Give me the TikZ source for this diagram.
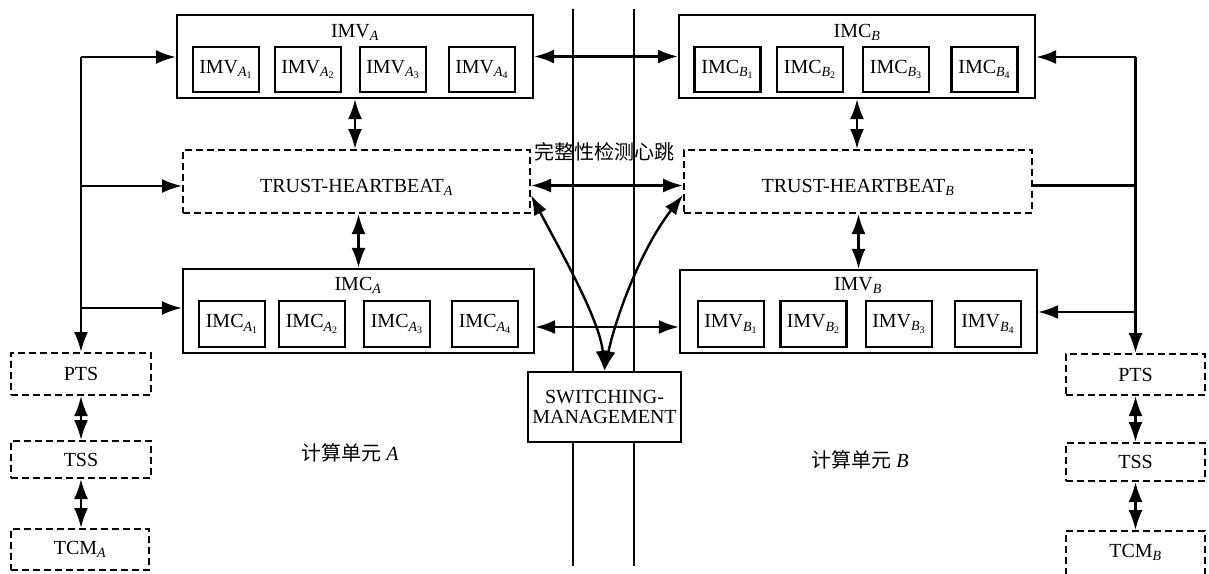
\documentclass[tikz,border=0pt]{standalone}
\usepackage{fontspec}
\usepackage{amsmath}
\setmainfont{Liberation Serif}
\newfontfamily\cjk{Noto Sans CJK SC}
\usetikzlibrary{arrows.meta,calc}
\newcommand{\sa}[2]{#1$_{\textit{#2}}$}
\newcommand{\sab}[3]{#1$_{\textit{#2}_{\text{#3}}}$}
\tikzset{
  box/.style={draw, line width=2.2pt, inner sep=0pt, fill=white},
  dbox/.style={draw, line width=2pt, dash pattern=on 7pt off 4pt, inner sep=0pt},
  lbl/.style={font=\fontsize{20}{20}\selectfont},
  tip/.tip={Latex[length=20pt,width=14pt]},
  arr/.style={line width=2.4pt, -tip},
  darr/.style={line width=2.4pt, tip-tip},
  plain/.style={line width=2.4pt},
  sep/.style={line width=1.8pt},
}
\begin{document}
\begin{tikzpicture}[x=1pt,y=-1pt]
\fill[white] (0,0) rectangle (1209,573);
\useasboundingbox (0,0) rectangle (1209,573);

% separator lines
\coordinate (s1t) at (573,9);  \coordinate (s1b) at (573,566);
\coordinate (s2t) at (634,9);  \coordinate (s2b) at (634,566);
\draw[sep] (s1t) -- (s1b);
\draw[sep] (s2t) -- (s2b);

% ---------- unit A ----------
\node[box, minimum width=356pt, minimum height=83pt] (imva) at (355,56.5) {};
\node[lbl, anchor=base] (imvat) at (355,37) {\sa{IMV}{A}};
\node[box, lbl, minimum width=66pt, minimum height=45pt] (imva1) at (226,69.5) {\sab{IMV}{A}{1}};
\node[box, lbl, minimum width=66pt, minimum height=45pt] (imva2) at (308,69.5) {\sab{IMV}{A}{2}};
\node[box, lbl, minimum width=66pt, minimum height=45pt] (imva3) at (393,69.5) {\sab{IMV}{A}{3}};
\node[box, lbl, minimum width=66pt, minimum height=45pt] (imva4) at (482,69.5) {\sab{IMV}{A}{4}};

\node[dbox, minimum width=347pt, minimum height=63pt] (tha) at (356.5,181.5) {};
\node[lbl, anchor=base] (thatxt) at (356.5,192) {\sa{TRUST-HEARTBEAT}{A}};

\node[box, minimum width=351pt, minimum height=84pt] (imca) at (358.5,311) {};
\node[lbl, anchor=base] (imcat) at (358,290) {\sa{IMC}{A}};
\node[box, lbl, minimum width=66pt, minimum height=46pt] (imca1) at (232,324) {\sab{IMC}{A}{1}};
\node[box, lbl, minimum width=66pt, minimum height=46pt] (imca2) at (312,324) {\sab{IMC}{A}{2}};
\node[box, lbl, minimum width=66pt, minimum height=46pt] (imca3) at (397,324) {\sab{IMC}{A}{3}};
\node[box, lbl, minimum width=66pt, minimum height=46pt] (imca4) at (485,324) {\sab{IMC}{A}{4}};

\node[dbox, lbl, minimum width=140pt, minimum height=42pt] (ptsa) at (81,374) {PTS};
\node[dbox, lbl, minimum width=140pt, minimum height=37pt] (tssa) at (81,459.5) {TSS};
\node[dbox, lbl, minimum width=138pt, minimum height=41pt] (tcma) at (80,549.5) {\raisebox{3pt}{\sa{TCM}{A}}};

\node[lbl] (unita) at (350,453) {{\cjk 计算单元} \textit{A}};

% ---------- unit B ----------
\node[box, minimum width=356pt, minimum height=83pt] (imcb) at (857,56.5) {};
\node[lbl, anchor=base] (imcbt) at (857,37) {\sa{IMC}{B}};
\node[box, lbl, minimum width=66pt, minimum height=45pt] (imcb1) at (727.5,69.5) {\sab{IMC}{B}{1}};
\node[box, lbl, minimum width=66pt, minimum height=45pt] (imcb2) at (810,69.5) {\sab{IMC}{B}{2}};
\node[box, lbl, minimum width=66pt, minimum height=45pt] (imcb3) at (896,69.5) {\sab{IMC}{B}{3}};
\node[box, lbl, minimum width=66pt, minimum height=45pt] (imcb4) at (984.5,69.5) {\sab{IMC}{B}{4}};

\node[dbox, minimum width=348pt, minimum height=63pt] (thb) at (858,181.5) {};
\node[lbl, anchor=base] (thbtxt) at (858,192) {\sa{TRUST-HEARTBEAT}{B}};

\node[box, minimum width=357pt, minimum height=83pt] (imvb) at (858.5,311.5) {};
\node[lbl, anchor=base] (imvbt) at (858,290) {\sa{IMV}{B}};
\node[box, lbl, minimum width=66pt, minimum height=46pt] (imvb1) at (731,324) {\sab{IMV}{B}{1}};
\node[box, lbl, minimum width=66pt, minimum height=46pt] (imvb2) at (813.5,324) {\sab{IMV}{B}{2}};
\node[box, lbl, minimum width=66pt, minimum height=46pt] (imvb3) at (899,324) {\sab{IMV}{B}{3}};
\node[box, lbl, minimum width=66pt, minimum height=46pt] (imvb4) at (988,324) {\sab{IMV}{B}{4}};

\node[dbox, lbl, minimum width=139pt, minimum height=41pt] (ptsb) at (1135.5,374.5) {PTS};
\node[dbox, lbl, minimum width=139pt, minimum height=38pt] (tssb) at (1135.5,462) {TSS};
\node[dbox, lbl, minimum width=139pt, minimum height=59pt] (tcmb) at (1135.5,560.5) {\raisebox{19pt}{\sa{TCM}{B}}};

\node[lbl] (unitb) at (860,460) {{\cjk 计算单元} \textit{B}};

% ---------- middle ----------
\node[box, lbl, minimum width=153pt, minimum height=70pt, align=center] (sw) at (604.5,407) {SWITCHING-\\MANAGEMENT};
\node[lbl] (integ) at (604,152) {\cjk 完整性检测心跳};

% ---------- connectors ----------
\draw[darr] (imva.south) -- (imva.south |- tha.north);
\draw[darr] (imca.north |- tha.south) -- (imca.north);
\draw[darr] (imcb.south) -- (imcb.south |- thb.north);
\draw[darr] (imvb.north |- thb.south) -- (imvb.north);

\draw[darr] (imva.east) -- (imcb.west);
\draw[darr] ($(tha.east)+(0,4)$) -- ($(thb.west)+(0,4)$);
\draw[darr] ($(imca.east)+(0,16)$) -- ($(imvb.west)+(0,15.5)$);

\draw[darr] ($(tha.east)+(0,13.5)$) .. controls (560,250) and (600,320) .. (sw.north);
\draw[darr] ($(thb.west)+(0,13.5)$) .. controls (640,250) and (615,320) .. (sw.north);

% left bus
\coordinate (l1) at (81,57);
\coordinate (l2) at (81,186);
\coordinate (l3) at (81,308);
\draw[arr] (l1) -- (l1 -| imva.west);
\draw[arr] (l2) -- (l2 -| tha.west);
\draw[arr] (l3) -- (l3 -| imca.west);
\draw[arr] (l1) -- (ptsa.north);
\draw[darr] (ptsa.south) -- (tssa.north);
\draw[darr] (tssa.south) -- (tcma.north -| tssa.south);

% right bus
\coordinate (r1) at (1135.5,57);
\coordinate (r2) at (1135.5,185.5);
\coordinate (r3) at (1135.5,312);
\draw[arr] (r1) -- (r1 -| imcb.east);
\draw[plain] (r2) -- (r2 -| thb.east);
\draw[arr] (r3) -- (r3 -| imvb.east);
\draw[arr] (r1) -- (ptsb.north);
\draw[darr] (ptsb.south) -- (tssb.north);
\draw[darr] (tssb.south) -- (tcmb.north);
\end{tikzpicture}
\end{document}
